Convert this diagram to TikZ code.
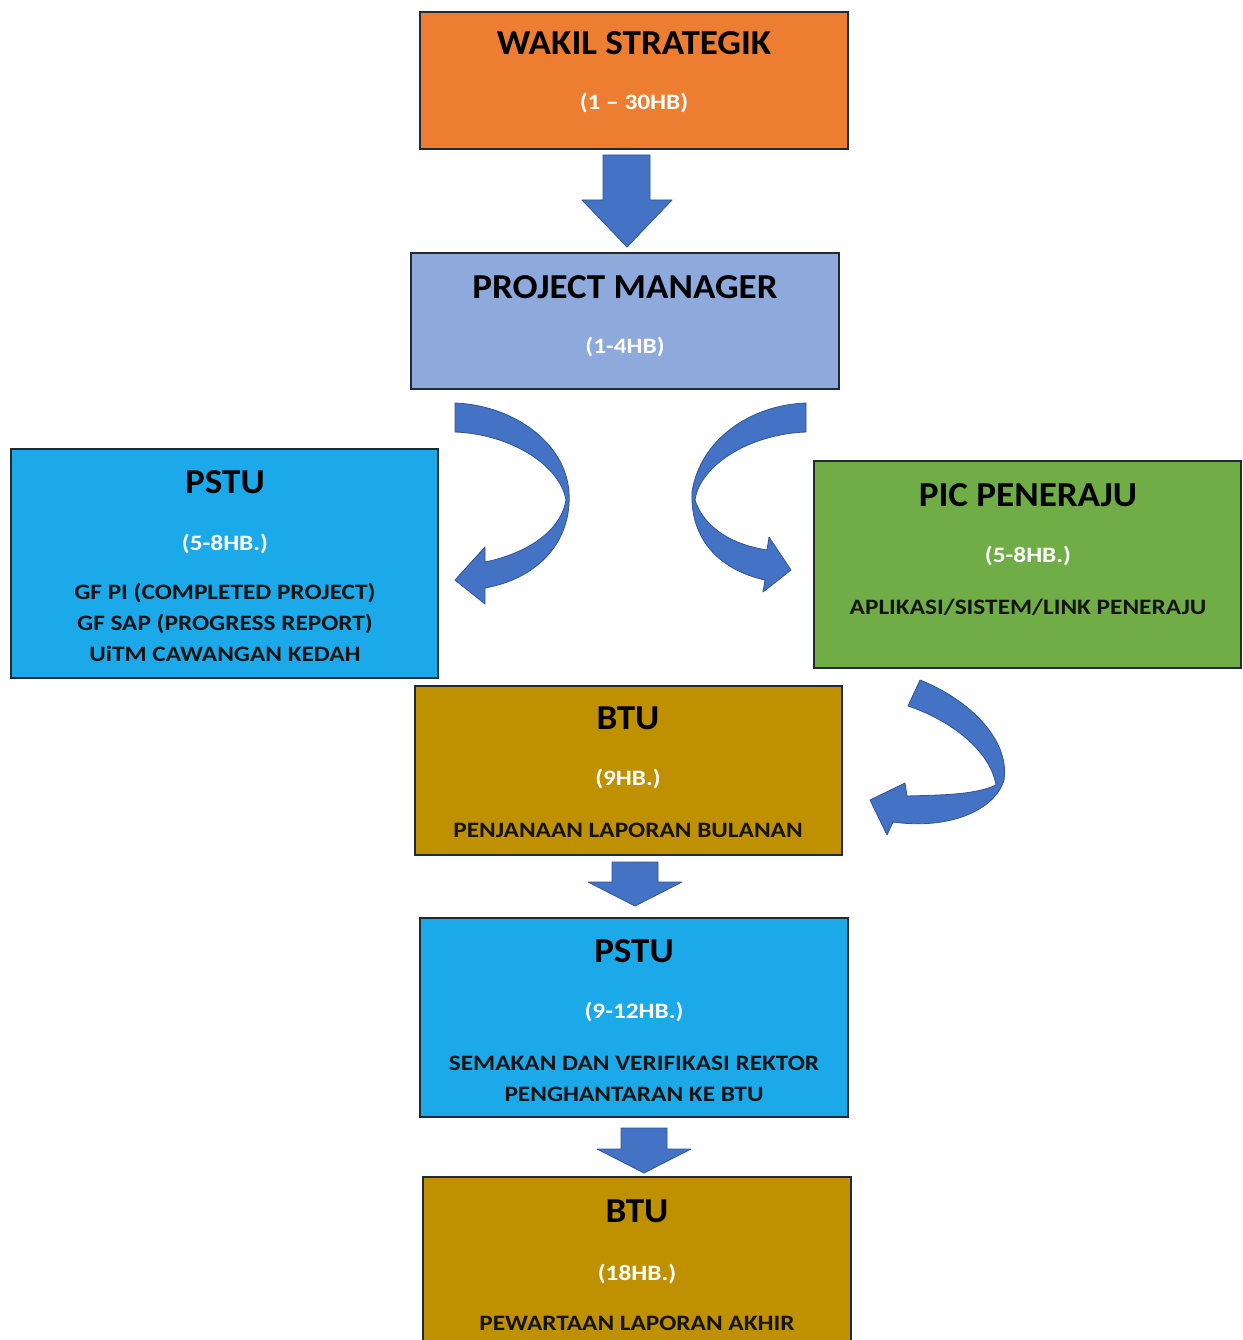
\documentclass[tikz,border=0pt]{standalone}
\usepackage{fontspec}
\setmainfont{Carlito}
\newfontfamily\wideT{Carlito}[FakeStretch=1.06]
\newfontfamily\wideB{Carlito}[FakeStretch=1.15]
\usetikzlibrary{calc}
\definecolor{orangebox}{HTML}{ED7D31}
\definecolor{pmbox}{HTML}{8EA9DB}
\definecolor{pstubox}{HTML}{1CA9EA}
\definecolor{greenbox}{HTML}{70AD47}
\definecolor{btubox}{HTML}{BF9000}
\definecolor{boxline}{HTML}{1E2A35}
\definecolor{arrowfill}{HTML}{4472C4}
\definecolor{arrowline}{HTML}{2F5597}
\definecolor{bodytext}{HTML}{141414}
\begin{document}
\begin{tikzpicture}[x=1pt,y=-1pt,
  box/.style={draw=boxline, line width=1.6pt, rectangle, inner sep=0pt},
  titletext/.style={anchor=base, inner sep=0pt, font=\wideT\fontsize{35}{40}\selectfont\bfseries, text=black},
  subtext/.style={anchor=base, inner sep=0pt, font=\wideB\fontsize{22}{26}\selectfont\bfseries, text=white},
  bodytxt/.style={anchor=base, inner sep=0pt, font=\wideB\fontsize{22}{26}\selectfont\bfseries, text=bodytext},
  blockarrow/.style={fill=arrowfill, draw=arrowline, line width=0.8pt, line join=round}]
\useasboundingbox (0,0) rectangle (1242,1340);
\fill[white] (0,0) rectangle (1242,1340);

% boxes
\node[box, fill=orangebox, minimum width=428pt, minimum height=137pt] (wakil) at (634,80.5) {};
\node[box, fill=pmbox, minimum width=428pt, minimum height=136pt] (pm) at (625,321) {};
\node[box, fill=pstubox, minimum width=427pt, minimum height=229pt] (pstuA) at (224.5,563.5) {};
\node[box, fill=greenbox, minimum width=427pt, minimum height=207pt] (pic) at (1027.5,564.5) {};
\node[box, fill=btubox, minimum width=427pt, minimum height=169pt] (btuA) at (628.5,770.5) {};
\node[box, fill=pstubox, minimum width=428pt, minimum height=199pt] (pstuB) at (634,1017.5) {};
\node[box, fill=btubox, minimum width=428pt, minimum height=200pt] (btuB) at (637,1277) {};

% texts
\node[titletext] (wakilT) at (634,55) {WAKIL STRATEGIK};
\node[subtext] (wakilS) at (634,110) {(1 – 30HB)};

\node[titletext] (pmT) at (625,298) {PROJECT MANAGER};
\node[subtext] (pmS) at (625,353) {(1-4HB)};

\node[titletext] (pstuAT) at (225,493) {PSTU};
\node[subtext] (pstuAS) at (225,550) {(5-8HB.)};
\node[bodytxt] (pstuA1) at (225,599) {GF PI (COMPLETED PROJECT)};
\node[bodytxt] (pstuA2) at (225,630) {GF SAP (PROGRESS REPORT)};
\node[bodytxt] (pstuA3) at (225,661) {UiTM CAWANGAN KEDAH};

\node[titletext] (picT) at (1028,506) {PIC PENERAJU};
\node[subtext] (picS) at (1028,562) {(5-8HB.)};
\node[bodytxt] (pic1) at (1028,614) {APLIKASI/SISTEM/LINK PENERAJU};

\node[titletext] (btuAT) at (628,729) {BTU};
\node[subtext] (btuAS) at (628,785) {(9HB.)};
\node[bodytxt] (btuA1) at (628,837) {PENJANAAN LAPORAN BULANAN};

\node[titletext] (pstuBT) at (634,962) {PSTU};
\node[subtext] (pstuBS) at (634,1018) {(9-12HB.)};
\node[bodytxt] (pstuB1) at (634,1070) {SEMAKAN DAN VERIFIKASI REKTOR};
\node[bodytxt] (pstuB2) at (634,1101) {PENGHANTARAN KE BTU};

\node[titletext] (btuBT) at (637,1222) {BTU};
\node[subtext] (btuBS) at (637,1280) {(18HB.)};
\node[bodytxt] (btuB1) at (637,1330) {PEWARTAAN LAPORAN AKHIR};

% straight block arrows
\draw[blockarrow] (603,155) -- (650,155) -- (650,200) -- (672,200) -- (627,247) -- (582,200) -- (603,200) -- cycle;
\draw[blockarrow] (612,862) -- (658,862) -- (658,882) -- (682,882) -- (635,906) -- (588,882) -- (612,882) -- cycle;
\draw[blockarrow] (621,1128) -- (667,1128) -- (667,1149) -- (691,1149) -- (644,1173) -- (597,1149) -- (621,1149) -- cycle;

% curved arrow: project manager -> PSTU
\draw[blockarrow] (455,403) -- (455,432)
  .. controls (510,434) and (560,465) .. (566,500)
  .. controls (560,535) and (520,555) .. (485,562)
  -- (485,547) -- (455,580) -- (485,604) -- (485,588)
  .. controls (540,578) and (572,540) .. (569,492)
  .. controls (565,440) and (510,405) .. (455,403) -- cycle;

% curved arrow: project manager -> PIC peneraju
\draw[blockarrow] (806,403) -- (806,432)
  .. controls (750,434) and (700,465) .. (695,500)
  .. controls (705,530) and (735,545) .. (767,550)
  -- (769,537) -- (791,570) -- (763,592) -- (765,580)
  .. controls (720,570) and (690,540) .. (692,492)
  .. controls (700,440) and (750,405) .. (806,403) -- cycle;

% curved arrow: PIC peneraju -> BTU
\draw[blockarrow] (920,680) -- (908,706)
  .. controls (950,720) and (990,750) .. (996,785)
  .. controls (975,795) and (940,795) .. (907,796)
  -- (905,783) -- (870,800) -- (887,835) -- (893,822)
  .. controls (950,830) and (995,810) .. (1004,780)
  .. controls (1010,740) and (970,700) .. (920,680) -- cycle;
\end{tikzpicture}
\end{document}
